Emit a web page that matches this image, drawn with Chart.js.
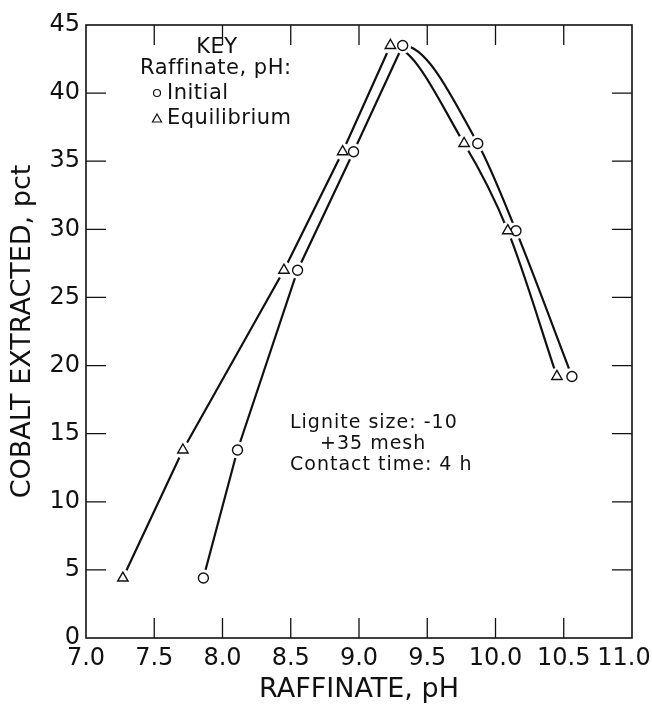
<!DOCTYPE html>
<html>
<head>
<meta charset="utf-8">
<script src="https://cdn.jsdelivr.net/npm/chart.js@4.4.1/dist/chart.umd.min.js"></script>
<style>
html, body { margin: 0; padding: 0; background: #fff; }
#wrap { width: 652px; height: 706px; }
</style>
</head>
<body>
<div id="wrap"><canvas id="chart" width="652" height="706"></canvas></div>
<script>
// 読み取ったデータ
var phInitial     = [7.86, 8.11, 8.55, 8.96, 9.32, 9.87, 10.15, 10.56];
var phEquilibrium = [7.27, 7.71, 8.45, 8.88, 9.23, 9.77, 10.09, 10.45];
var cobaltPct     = [4.4, 13.8, 27.0, 35.7, 43.5, 36.3, 29.9, 19.2];

// 目盛り
var xTicks = [7.0, 7.5, 8.0, 8.5, 9.0, 9.5, 10.0, 10.5, 11.0];
var yTicks = [0, 5, 10, 15, 20, 25, 30, 35, 40, 45];

var FONT = '"DejaVu Sans", sans-serif';
var INK = '#111';
var PEAK = 4; // 最大値の位置。ここから右は曲線

function toPoints(xs, ys) {
  return xs.map(function(x, i){ return { x: x, y: ys[i] }; });
}

// 上り側は折れ線、下り側はなめらかな曲線（ピークで水平）
function series(label, xs, style, r) {
  var common = {
    borderColor: INK,
    borderWidth: 2.2,
    pointStyle: style,
    pointBorderWidth: 1.4,
    pointBorderColor: INK,
    pointBackgroundColor: '#fff'
  };
  var up = Object.assign({}, common, {
    label: label,
    data: toPoints(xs.slice(0, PEAK + 1), cobaltPct.slice(0, PEAK + 1)),
    tension: 0,
    pointRadius: r
  });
  var down = Object.assign({}, common, {
    label: label + ' (fall)',
    data: toPoints(xs.slice(PEAK - 1), cobaltPct.slice(PEAK - 1)),
    cubicInterpolationMode: 'monotone',
    segment: {
      borderColor: function(c){ return c.p0DataIndex === 0 ? 'rgba(0,0,0,0)' : INK; }
    },
    pointRadius: function(c){ return c.dataIndex < 2 ? 0 : r; }
  });
  return [up, down];
}

// 枠線と内向きの目盛り線
var frameTicks = {
  id: 'frameTicks',
  beforeDraw: function(chart){
    chart.ctx.letterSpacing = '0px';
    // 最後のラベル 11.0 が切れないよう少し左へ
    var items = chart.scales.x.getLabelItems();
    var last = items[items.length - 1];
    if (last && !last._moved) {
      last.options.translation[0] -= 8;
      last._moved = true;
    }
  },
  beforeDatasetsDraw: function(chart){
    var c = chart.ctx, a = chart.chartArea;
    var xs = chart.scales.x, ys = chart.scales.y;
    var len = 20;
    c.save();
    c.strokeStyle = INK;
    c.lineWidth = 1.6;
    c.strokeRect(a.left, a.top, a.right - a.left, a.bottom - a.top);
    c.lineWidth = 1.3;
    c.beginPath();
    xTicks.slice(1, -1).forEach(function(v){
      var px = xs.getPixelForValue(v);
      c.moveTo(px, a.bottom); c.lineTo(px, a.bottom - len);
      c.moveTo(px, a.top);    c.lineTo(px, a.top + len);
    });
    yTicks.slice(1, -1).forEach(function(v){
      var py = ys.getPixelForValue(v);
      c.moveTo(a.left, py);  c.lineTo(a.left + len, py);
      c.moveTo(a.right, py); c.lineTo(a.right - len, py);
    });
    c.stroke();
    c.restore();
  },
  // 線が記号の手前で切れるように白い縁を描いてから記号を描き直す
  afterDatasetsDraw: function(chart){
    var c = chart.ctx;
    var metas = chart.getSortedVisibleDatasetMetas();
    c.save();
    c.fillStyle = '#fff';
    metas.forEach(function(meta){
      meta.data.forEach(function(el){
        if (el.options.radius < 0.1) return;
        c.beginPath();
        c.arc(el.x, el.y, 8.5, 0, Math.PI * 2);
        c.fill();
      });
    });
    c.restore();
    metas.forEach(function(meta){
      meta.data.forEach(function(el){ el.draw(c, chart.chartArea); });
    });
  },
  afterDraw: function(chart){
    var c = chart.ctx;
    c.save();
    c.fillStyle = INK;
    c.strokeStyle = INK;
    c.textBaseline = 'alphabetic';

    // 凡例 (KEY)
    c.letterSpacing = '0.5px';
    c.font = '21px ' + FONT;
    c.textAlign = 'center';
    c.fillText('KEY', 217, 53);
    c.textAlign = 'left';
    c.fillText('Raffinate, pH:', 140, 74);
    c.fillText('Initial', 167, 99);
    c.fillText('Equilibrium', 167, 124);
    c.lineWidth = 1.2;
    c.beginPath();
    c.arc(157, 93, 3.5, 0, Math.PI * 2);
    c.stroke();
    c.beginPath();
    c.moveTo(157, 114); c.lineTo(161.5, 122); c.lineTo(152.5, 122); c.closePath();
    c.stroke();

    // 条件の注記
    c.letterSpacing = '1px';
    c.font = '19px ' + FONT;
    c.fillText('Lignite size: -10', 290, 428);
    c.fillText('+35 mesh', 320, 449);
    c.fillText('Contact time: 4 h', 290, 470);
    c.restore();
  }
};

var ctx = document.getElementById('chart');
var chart = new Chart(ctx, {
  type: 'line',
  data: {
    datasets: series('Initial', phInitial, 'circle', 5)
      .concat(series('Equilibrium', phEquilibrium, 'triangle', 6))
  },
  options: {
    responsive: false,
    animation: false,
    devicePixelRatio: 1,
    layout: { padding: { top: 25, right: 20, left: 0, bottom: 0 } },
    plugins: {
      legend: { display: false },
      tooltip: { enabled: false }
    },
    scales: {
      x: {
        type: 'linear',
        min: 7, max: 11,
        afterBuildTicks: function(s){ s.ticks = xTicks.map(function(v){ return { value: v }; }); },
        afterFit: function(s){ s.height = 68; s.paddingLeft = 0; s.paddingRight = 0; },
        grid: { display: false, drawTicks: false },
        border: { display: false },
        ticks: {
          color: INK, padding: 6, maxRotation: 0, autoSkip: false,
          font: { family: FONT, size: 24 },
          callback: function(v){ return Number(v).toFixed(1); }
        },
        title: {
          display: true, text: 'RAFFINATE, pH', color: INK,
          font: { family: FONT, size: 27 },
          padding: { top: 0, bottom: 0 }
        }
      },
      y: {
        min: 0, max: 45,
        afterBuildTicks: function(s){ s.ticks = yTicks.map(function(v){ return { value: v }; }); },
        afterFit: function(s){ s.width = 86; s.paddingTop = 0; s.paddingBottom = 0; },
        grid: { display: false, drawTicks: false },
        border: { display: false },
        ticks: {
          color: INK, padding: 6, autoSkip: false,
          font: { family: FONT, size: 24 }
        },
        title: {
          display: true, text: 'COBALT EXTRACTED, pct', color: INK,
          font: { family: FONT, size: 27 },
          padding: { top: 7, bottom: 0 }
        }
      }
    }
  },
  plugins: [frameTicks]
});
</script>
</body>
</html>
